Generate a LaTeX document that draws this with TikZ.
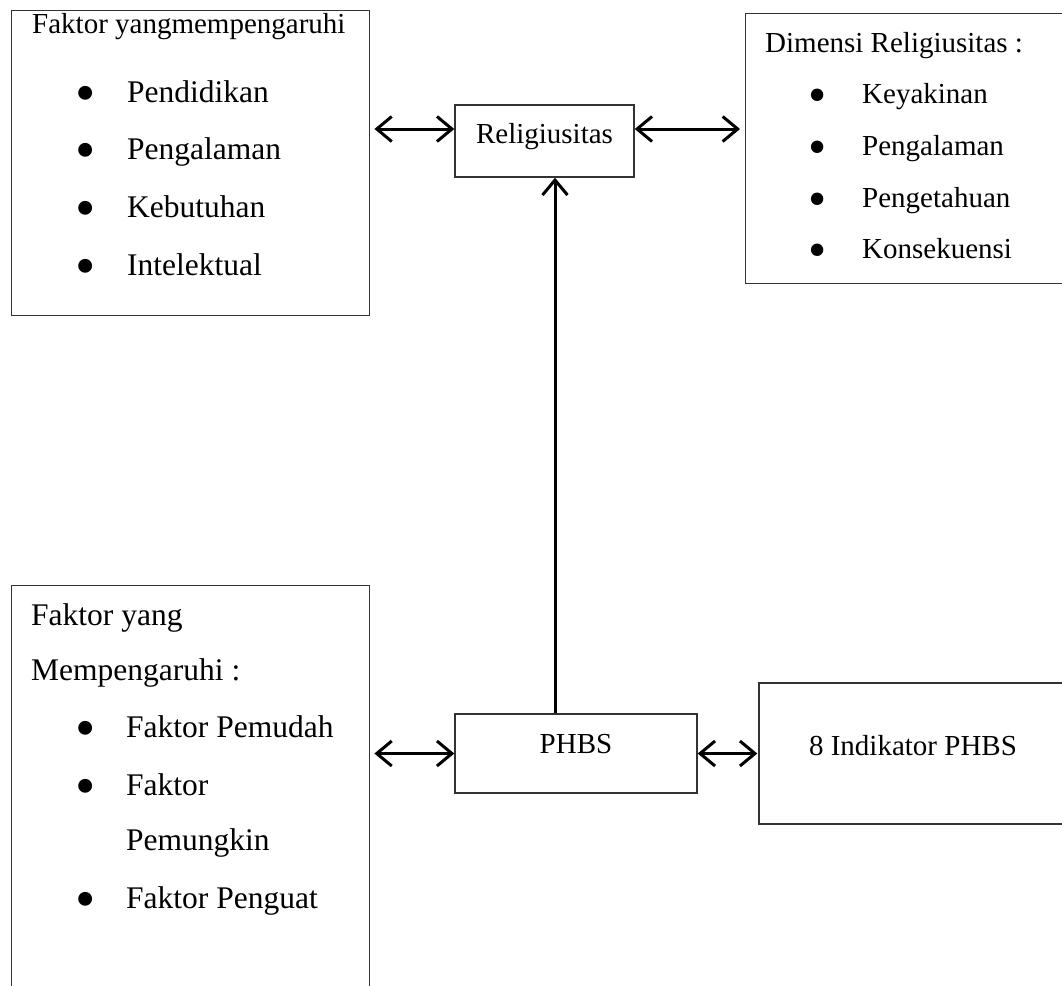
\documentclass[tikz,border=0pt]{standalone}
\usepackage{fontspec}
\setmainfont{Liberation Serif}
\usetikzlibrary{arrows.meta,positioning}

\begin{document}
\begin{tikzpicture}[x=1pt,y=-1pt,
  box/.style={draw=black!80,line width=1.4pt,inner sep=0pt},
  txt/.style={anchor=base west,inner sep=0pt,font=\fontsize{29}{35}\selectfont},
  big/.style={anchor=base west,inner sep=0pt,font=\fontsize{31.5}{38}\selectfont},
  dot/.style={inner sep=0pt,yshift=-6pt,font=\fontsize{58}{60}\selectfont},
  biarr/.style={line width=3pt,{Straight Barb[length=15pt,width=25pt]}-{Straight Barb[length=15pt,width=25pt]}},
  uparr/.style={line width=3pt,-{Straight Barb[length=15pt,width=25pt]}}]
\path[use as bounding box] (0,0) rectangle (1062,985);
\clip (0,0) rectangle (1062,985);

% boxes
\node[box,anchor=north west,minimum width=358pt,minimum height=305pt] (1) at (11,10) {};
\node[box,minimum width=179pt,minimum height=72pt,text height=19pt,text depth=15pt,
  font=\fontsize{29}{35}\selectfont] (2) at (544.5,141) {Religiusitas};
\node[box,anchor=north west,minimum width=325pt,minimum height=270pt] (3) at (745,13) {};
\node[box,anchor=north west,minimum width=358pt,minimum height=420pt] (4) at (11,585) {};
\node[box,minimum width=242pt,minimum height=79pt,text height=10pt,text depth=10pt,
  font=\fontsize{29}{35}\selectfont] (5) at (576,753.5) {PHBS};
\node[box,minimum width=308pt,minimum height=141pt,text height=12pt,text depth=8pt,
  font=\fontsize{29}{35}\selectfont] (6) at (913,753.5) {8 Indikator PHBS};

% faktor (atas)
\node[txt] (1h) at (32,33) {Faktor yangmempengaruhi};
\node[big] (1a) at (127,102) {Pendidikan};
\node[big] (1b) at (127,159) {Pengalaman};
\node[big] (1c) at (127,217) {Kebutuhan};
\node[big] (1d) at (127,275) {Intelektual};
\node[dot] (1a0) at (86,93) {\textbullet};
\node[dot] (1b0) at (86,150) {\textbullet};
\node[dot] (1c0) at (86,208) {\textbullet};
\node[dot] (1d0) at (86,266) {\textbullet};

% dimensi
\node[txt] (3h) at (765,52) {Dimensi Religiusitas :};
\node[txt] (3a) at (862,103) {Keyakinan};
\node[txt] (3b) at (862,155) {Pengalaman};
\node[txt] (3c) at (862,207) {Pengetahuan};
\node[txt] (3d) at (862,258) {Konsekuensi};
\node[dot,font=\fontsize{52}{54}\selectfont] (3a0) at (818,95) {\textbullet};
\node[dot,font=\fontsize{52}{54}\selectfont] (3b0) at (818,147) {\textbullet};
\node[dot,font=\fontsize{52}{54}\selectfont] (3c0) at (818,199) {\textbullet};
\node[dot,font=\fontsize{52}{54}\selectfont] (3d0) at (818,250) {\textbullet};

% faktor (bawah)
\node[big] (4h) at (31,625) {Faktor yang};
\node[big] (4i) at (31,680) {Mempengaruhi :};
\node[big] (4a) at (126,737) {Faktor Pemudah};
\node[big] (4b) at (126,795) {Faktor};
\node[big] (4c) at (126,850) {Pemungkin};
\node[big] (4d) at (126,908) {Faktor Penguat};
\node[dot] (4a0) at (86,728) {\textbullet};
\node[dot] (4b0) at (86,786) {\textbullet};
\node[dot] (4d0) at (86,899) {\textbullet};

% arrows
\draw[biarr] ([yshift=12pt]2.west) -- ([xshift=4pt,yshift=12pt]2.west -| 1.east);
\draw[biarr] ([yshift=12pt]2.east) -- ([xshift=-5pt,yshift=12pt]2.east -| 3.west);
\draw[biarr] (5.west) -- ([xshift=4pt]5.west -| 4.east);
\draw[biarr] (5.east) -- ([xshift=-1pt]6.west);
\draw[uparr] ([xshift=-21pt]5.north) -- ([xshift=-21pt]5.north |- 2.south);
\end{tikzpicture}
\end{document}
